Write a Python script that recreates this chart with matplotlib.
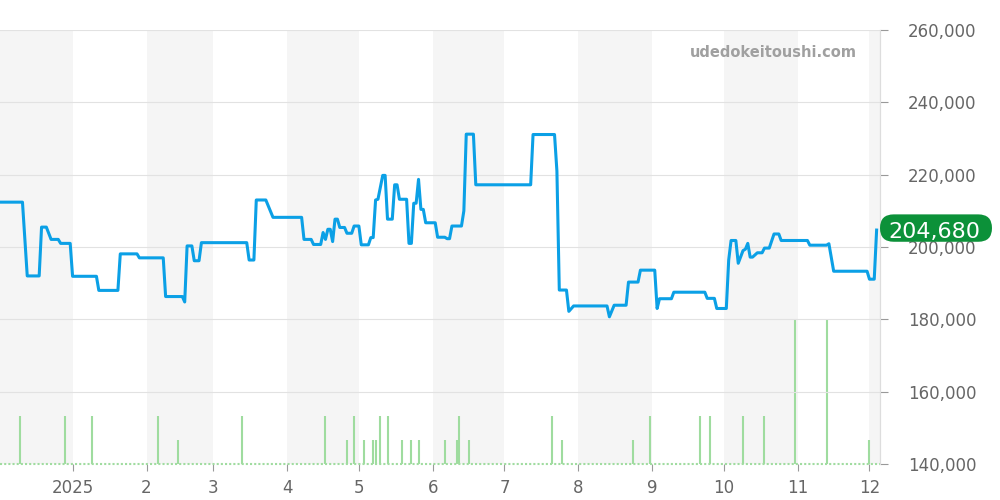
import matplotlib
matplotlib.use('Agg')
import matplotlib.pyplot as plt
from matplotlib.patches import FancyBboxPatch
from matplotlib.transforms import IdentityTransform
import pandas as pd

# price history (yen)
price_dates = ["2024-12-01", "2024-12-11", "2024-12-13", "2024-12-18", "2024-12-19", "2024-12-21",
               "2024-12-23", "2024-12-26", "2024-12-27", "2024-12-31", "2025-01-01", "2025-01-11",
               "2025-01-12", "2025-01-20", "2025-01-21", "2025-01-28", "2025-01-29", "2025-02-08",
               "2025-02-09", "2025-02-16", "2025-02-17", "2025-02-18", "2025-02-20", "2025-02-21",
               "2025-02-23", "2025-02-24", "2025-03-15", "2025-03-16", "2025-03-18", "2025-03-19",
               "2025-03-23", "2025-03-26", "2025-04-07", "2025-04-08", "2025-04-11", "2025-04-12",
               "2025-04-15", "2025-04-16", "2025-04-17", "2025-04-18", "2025-04-19", "2025-04-20",
               "2025-04-21", "2025-04-22", "2025-04-23", "2025-04-25", "2025-04-26", "2025-04-28",
               "2025-04-29", "2025-05-01", "2025-05-02", "2025-05-05", "2025-05-06", "2025-05-07",
               "2025-05-08", "2025-05-09", "2025-05-11", "2025-05-12", "2025-05-13", "2025-05-15",
               "2025-05-16", "2025-05-17", "2025-05-18", "2025-05-21", "2025-05-22", "2025-05-23",
               "2025-05-24", "2025-05-25", "2025-05-26", "2025-05-27", "2025-05-28", "2025-05-29",
               "2025-06-02", "2025-06-03", "2025-06-06", "2025-06-07", "2025-06-08", "2025-06-09",
               "2025-06-13", "2025-06-14", "2025-06-15", "2025-06-18", "2025-06-19", "2025-07-12",
               "2025-07-13", "2025-07-22", "2025-07-23", "2025-07-24", "2025-07-27", "2025-07-28",
               "2025-07-30", "2025-08-13", "2025-08-14", "2025-08-16", "2025-08-21", "2025-08-22",
               "2025-08-26", "2025-08-27", "2025-09-02", "2025-09-03", "2025-09-04", "2025-09-09",
               "2025-09-10", "2025-09-23", "2025-09-24", "2025-09-27", "2025-09-28", "2025-10-02",
               "2025-10-03", "2025-10-04", "2025-10-06", "2025-10-07", "2025-10-09", "2025-10-10",
               "2025-10-11", "2025-10-12", "2025-10-13", "2025-10-15", "2025-10-17", "2025-10-18",
               "2025-10-20", "2025-10-22", "2025-10-24", "2025-10-25", "2025-11-05", "2025-11-06",
               "2025-11-13", "2025-11-14", "2025-11-16", "2025-11-30", "2025-12-01", "2025-12-03",
               "2025-12-04"]
prices = [212400, 212400, 192000, 192000, 205500, 205500,
          202100, 202100, 201000, 201000, 191900, 191900,
          188000, 188000, 198100, 198100, 197000, 197000,
          186300, 186300, 184800, 200300, 200300, 196200,
          196200, 201200, 201200, 196400, 196400, 213000,
          213000, 208200, 208200, 202100, 202100, 200700,
          200700, 204000, 202100, 204900, 204900, 201500,
          207700, 207700, 205400, 205400, 203800, 203800,
          205800, 205800, 200600, 200600, 202600, 202600,
          213000, 213200, 219800, 219800, 207700, 207700,
          217200, 217200, 213200, 213200, 201000, 201000,
          212100, 212100, 218700, 210400, 210400, 206700,
          206700, 202700, 202700, 202300, 202300, 205800,
          205800, 210000, 231200, 231200, 217200, 217200,
          231100, 231100, 221000, 188100, 188100, 182200,
          183700, 183700, 180700, 183900, 183900, 190300,
          190300, 193600, 193600, 183000, 185700, 185700,
          187500, 187500, 185800, 185800, 183000, 183000,
          196400, 201800, 201800, 195500, 199000, 199400,
          201000, 197200, 197200, 198400, 198400, 199700,
          199700, 203600, 203600, 201800, 201800, 200500,
          200500, 200900, 193300, 193300, 191100, 191100,
          204680]

# number of listings per day
vol_dates = ["2024-12-10", "2024-12-29", "2025-01-09", "2025-02-06", "2025-02-14", "2025-03-13",
             "2025-04-17", "2025-04-26", "2025-04-29", "2025-05-03", "2025-05-07", "2025-05-08",
             "2025-05-10", "2025-05-13", "2025-05-19", "2025-05-23", "2025-05-26", "2025-06-06",
             "2025-06-11", "2025-06-12", "2025-06-16", "2025-07-21", "2025-07-25", "2025-08-24",
             "2025-08-31", "2025-09-21", "2025-09-25", "2025-10-09", "2025-10-18", "2025-10-31",
             "2025-11-13", "2025-12-01"]
vol_counts = [2, 2, 2, 2, 1, 2,
              2, 1, 2, 1, 1, 1,
              2, 2, 1, 1, 1, 1,
              1, 2, 1, 2, 1, 1,
              2, 2, 2, 2, 2, 6,
              6, 1]

month_ticks = ["2025-01-01", "2025-02-01", "2025-03-01", "2025-04-01", "2025-05-01", "2025-06-01",
               "2025-07-01", "2025-08-01", "2025-09-01", "2025-10-01", "2025-11-01", "2025-12-01"]
month_labels = ["2025", "2", "3", "4", "5", "6", "7", "8", "9", "10", "11", "12"]
price_ticks = [140000, 160000, 180000, 200000, 220000, 240000, 260000]
last_label = "204,680"
site = "udedokeitoushi.com"

px = pd.to_datetime(price_dates)
vx = pd.to_datetime(vol_dates)
x0 = pd.Timestamp("2024-12-01 14:00")
x1 = pd.Timestamp("2025-12-05 10:00")

fig = plt.figure(figsize=(10, 5), dpi=100)
ax = fig.add_axes([0.0, 0.072, 0.88, 0.868])  # volume, bottom layer
ax2 = ax.twinx()  # price

# alternating month bands
months = pd.date_range("2024-12-01", "2026-01-01", freq="MS")
for i in range(len(months) - 1):
    if i % 2 == 0:
        ax.axvspan(months[i], months[i + 1], color="#f5f5f5", lw=0, zorder=0)

ax.vlines(vx, 0, vol_counts, color="#9fdc9f", lw=1.5, zorder=2)
ax.axhline(0, color="#9fdc9f", lw=1.5, ls=(0, (1, 1)), clip_on=False, zorder=2)
ax.set_ylim(0, 18.08)
ax.set_yticks([])
ax.set_xlim(x0, x1)

ax2.plot(px, prices, color="#0ba0e6", lw=2.2, solid_joinstyle="round", zorder=3)
ax2.set_ylim(140000, 260000)
ax2.set_yticks(price_ticks)
ax2.set_yticklabels([f"{v:,}" for v in price_ticks])
ax2.grid(axis="y", color="#e2e2e2", lw=0.8)
ax2.set_xlim(x0, x1)

ax.set_xticks(pd.to_datetime(month_ticks))
ax.set_xticklabels(month_labels)
ax.tick_params(axis="x", length=5, width=0.8, color="#999999", labelcolor="#666666",
               labelsize=12, pad=6)
ax2.tick_params(axis="y", length=6, width=0.8, color="#999999", labelcolor="#666666",
                labelsize=12, pad=14)

for a in (ax, ax2):
    for s in ["top", "left", "bottom"]:
        a.spines[s].set_visible(False)
    a.spines["right"].set_color("#dddddd")

ax2.text(0.974, 0.949, site, transform=ax2.transAxes, ha="right", va="center",
         fontsize=10.5, fontweight="bold", color="#a0a0a0", zorder=5)

# last price badge, placed in pixels next to the right edge
ypix = ax2.transData.transform((0, prices[-1]))[1]
badge = FancyBboxPatch((880, ypix - 11.7), 112, 27.4,
                       boxstyle="round,pad=0,rounding_size=13.7",
                       fc="#0c9139", ec="none", transform=IdentityTransform(), zorder=6)
fig.patches.append(badge)
fig.text(934 / 1000, ypix / 500, last_label, ha="center", va="center_baseline",
         fontsize=16, color="white", zorder=7)

plt.savefig("out.png", dpi=100)
plt.close()
